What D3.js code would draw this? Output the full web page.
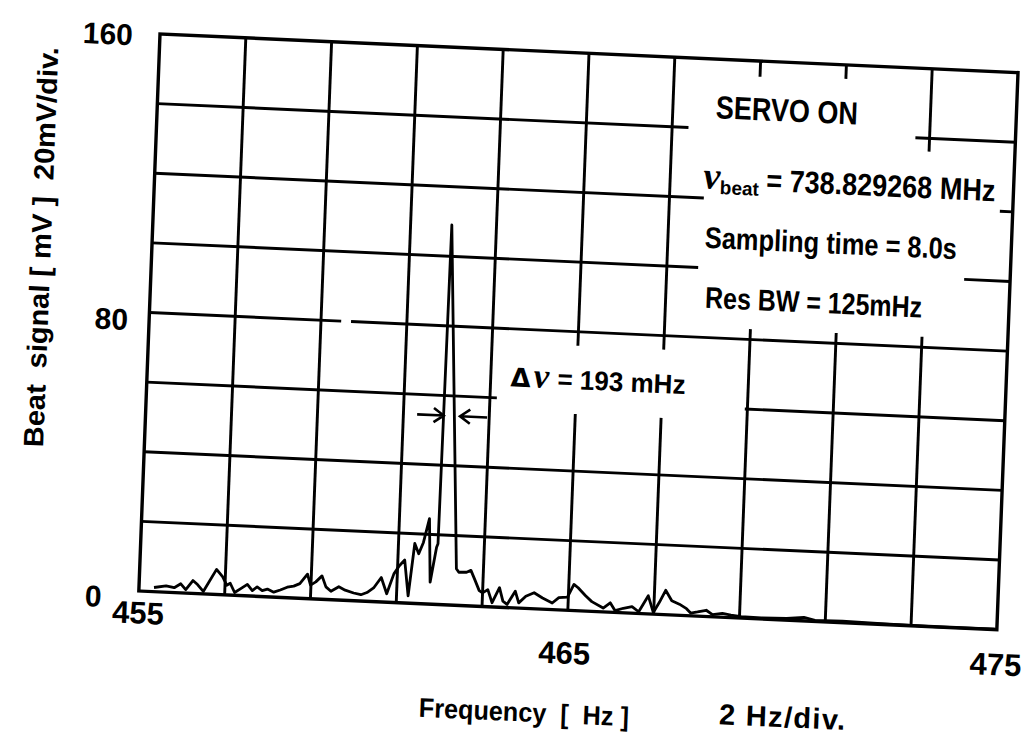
<!DOCTYPE html>
<html>
<head>
<meta charset="utf-8">
<script src="https://cdn.jsdelivr.net/npm/d3@7"></script>
<style>
  body { margin: 0; background: #fff; }
  text { font-family: "Liberation Sans", Arial, Helvetica, sans-serif; font-weight: bold; fill: #000; }
</style>
</head>
<body>
<div id="chart"></div>
<script>
// Espectro de la señal de batido (servo on)
const freqHz = [455.35, 455.63, 455.82, 455.97, 456.09, 456.25, 456.36, 456.50, 456.79, 456.94,
  457.04, 457.12, 457.23, 457.37, 457.52, 457.64, 457.75, 457.87, 457.99, 458.14,
  458.29, 458.45, 458.60, 458.74, 458.91, 458.99, 459.11, 459.25, 459.35, 459.47,
  459.65, 459.80, 460.00, 460.17, 460.31, 460.46, 460.63, 460.77, 460.92, 461.04,
  461.16, 461.27, 461.38, 461.48, 461.58, 461.70, 461.77, 461.89, 461.92, 461.96,
  462.37, 462.43, 462.61, 462.71, 462.80, 462.92, 463.00, 463.12, 463.23, 463.39,
  463.48, 463.58, 463.76, 463.85, 464.01, 464.20, 464.40, 464.63, 464.78, 464.98,
  465.12, 465.22, 465.40, 465.55, 465.82, 465.98, 466.10, 466.29, 466.49, 466.65,
  466.86, 466.99, 467.12, 467.26, 467.41, 467.59, 467.76, 467.86, 468.02, 468.22,
  468.37, 468.60, 468.80, 469.04, 469.51, 470.10, 470.50, 470.76, 471.40, 472.30,
  473.60, 474.95]
const beatMv = [1.2, 1.8, 1.4, 2.6, 1.0, 3.7, 2.6, 0.7, 7.2, 5.1,
  2.8, 3.4, 0.8, 2.0, 3.3, 1.6, 2.7, 1.7, 2.2, 1.4,
  2.1, 3.0, 3.4, 4.2, 7.0, 3.9, 4.9, 6.7, 3.6, 2.4,
  3.8, 2.9, 2.2, 1.8, 2.5, 3.9, 7.0, 2.4, 8.2, 10.6,
  12.3, 2.1, 17.2, 14.3, 17.6, 24.5, 6.3, 16.4, 17.4, 109,
  10.5, 9.5, 9.6, 10.2, 7.8, 4.5, 3.9, 4.9, 1.2, 5.6,
  1.8, 0.9, 4.8, 1.5, 3.5, 4.6, 3.2, 1.9, 3.5, 3.8,
  7.5, 6.6, 4.4, 2.8, 1.1, 2.7, 0.5, 1.3, 1.9, 0.5,
  5.2, 0.5, 3.4, 7.0, 4.1, 3.2, 2.0, 0.8, 1.2, 1.8,
  0.6, 1.1, 0.7, 0.4, 0.3, 0.5, 1.0, 0.3, 0.4, 0.2,
  0.0, 0.1]

const xTickLabels = [455, 465, 475]
const yTickLabels = [0, 80, 160]

// rejilla: lineas verticales (Hz) con sus tramos en mV, horizontales (mV) con tramos en Hz
const vGridX = [457, 459, 461, 463, 465, 467, 469, 471, 473]
const vGridSpans = [[[0, 160]], [[0, 160]], [[0, 160]], [[0, 160]],
  [[0, 56.4], [76, 160]], [[0, 56.4], [76, 160]],
  [[0, 83], [155.5, 160]], [[0, 83], [156, 160]], [[0, 83], [136.2, 160]]]
const hGridY = [20, 40, 60, 80, 100, 120, 140]
const hGridSpans = [[[455, 475]], [[455, 475]],
  [[455, 463.16], [468.94, 475]], [[455, 459.47], [459.7, 475]],
  [[455, 467.73], [473.93, 475]], [[455, 467.8], [474.7, 475]],
  [[455, 467.38], [472.67, 475]]]

// anotaciones
const servoText = "SERVO ON"
const beatText = "= 738.829268 MHz"
const samplingText = "Sampling time = 8.0s"
const resBwText = "Res BW = 125mHz"
const widthText = "= 193 mHz"
const fwhmLeft = [461.32, 461.94]
const fwhmRight = [462.95, 462.32]
const fwhmLevel = 54.25

const WIDTH = 1030
const HEIGHT = 739
const plotW = 858
const plotH = 557

const svg = d3.select("#chart").append("svg")
  .attr("width", WIDTH)
  .attr("height", HEIGHT)

svg.append("rect").attr("width", WIDTH).attr("height", HEIGHT).attr("fill", "#fff")

// la figura escaneada esta ligeramente girada
const plot = svg.append("g")
  .attr("transform", "matrix(1, 0.045, -0.038, 1, 160, 34)")

const xScale = d3.scaleLinear().domain([455, 475]).range([0, plotW])
const yScale = d3.scaleLinear().domain([0, 160]).range([plotH, 0])

// Rejilla
const vSegs = []
vGridX.forEach((xv, i) => vGridSpans[i].forEach(s => vSegs.push({ x: xv, y0: s[0], y1: s[1] })))
const hSegs = []
hGridY.forEach((yv, i) => hGridSpans[i].forEach(s => hSegs.push({ y: yv, x0: s[0], x1: s[1] })))

plot.append("g").selectAll("line")
  .data(vSegs)
  .join("line")
  .attr("x1", d => xScale(d.x)).attr("x2", d => xScale(d.x))
  .attr("y1", d => yScale(d.y0)).attr("y2", d => yScale(d.y1))
  .attr("stroke", "#000").attr("stroke-width", 2.9)

plot.append("g").selectAll("line")
  .data(hSegs)
  .join("line")
  .attr("x1", d => xScale(d.x0)).attr("x2", d => xScale(d.x1))
  .attr("y1", d => yScale(d.y)).attr("y2", d => yScale(d.y))
  .attr("stroke", "#000").attr("stroke-width", 2.9)

// Marco
plot.append("rect")
  .attr("x", xScale(455)).attr("y", yScale(160))
  .attr("width", xScale(475) - xScale(455))
  .attr("height", yScale(0) - yScale(160))
  .attr("fill", "none").attr("stroke", "#000").attr("stroke-width", 3.4)

// Curva
const spectrum = freqHz.map((f, i) => [f, beatMv[i]])
const lineGenerator = d3.line()
  .x(d => xScale(d[0]))
  .y(d => yScale(d[1]))

plot.append("path")
  .datum(spectrum)
  .attr("d", lineGenerator)
  .attr("fill", "none")
  .attr("stroke", "#000")
  .attr("stroke-width", 2.8)
  .attr("stroke-linejoin", "round")

// Flechas de ancho de linea
const drawArrow = (from, to) => {
  const yy = yScale(fwhmLevel)
  const x0 = xScale(from), x1 = xScale(to)
  const dir = Math.sign(x1 - x0)
  plot.append("path")
    .attr("d", `M${x0},${yy}L${x1},${yy}M${x1 - dir * 10},${yy - 7}L${x1},${yy}L${x1 - dir * 10},${yy + 7}`)
    .attr("fill", "none").attr("stroke", "#000").attr("stroke-width", 2.6)
}
drawArrow(fwhmLeft[0], fwhmLeft[1])
drawArrow(fwhmRight[0], fwhmRight[1])

// Textos del recuadro
const serif = "'Liberation Serif', 'DejaVu Serif', serif"

plot.append("text")
  .attr("x", xScale(468.0)).attr("y", yScale(143.0))
  .attr("font-size", 32)
  .attr("textLength", 142).attr("lengthAdjust", "spacingAndGlyphs")
  .text(servoText)

const beatX = xScale(467.77)
const beatY = yScale(122.8)
const beat = plot.append("text")
  .attr("x", beatX).attr("y", beatY)
beat.append("tspan").text("ν")
  .style("font-family", serif)
  .style("font-style", "italic")
  .attr("font-size", 38)
beat.append("tspan").text("beat").attr("font-size", 19).attr("dy", 5)

plot.append("text")
  .attr("x", beatX + 63).attr("y", beatY)
  .attr("font-size", 31)
  .attr("textLength", 229).attr("lengthAdjust", "spacingAndGlyphs")
  .text(beatText)

plot.append("text")
  .attr("x", xScale(467.86)).attr("y", yScale(105.7))
  .attr("font-size", 30)
  .attr("textLength", 252).attr("lengthAdjust", "spacingAndGlyphs")
  .text(samplingText)

plot.append("text")
  .attr("x", xScale(467.92)).attr("y", yScale(88.5))
  .attr("font-size", 30)
  .attr("textLength", 217).attr("lengthAdjust", "spacingAndGlyphs")
  .text(resBwText)

const dnuX = xScale(463.46)
const dnuY = yScale(63.5)
const dnu = plot.append("text")
  .attr("x", dnuX).attr("y", dnuY)
dnu.append("tspan").text("Δ").style("font-family", "'DejaVu Sans', sans-serif").attr("font-size", 26)
dnu.append("tspan").text("ν").attr("dx", 3)
  .style("font-family", serif)
  .style("font-style", "italic").attr("font-size", 35)

plot.append("text")
  .attr("x", dnuX + 47).attr("y", dnuY)
  .attr("font-size", 27)
  .attr("textLength", 128).attr("lengthAdjust", "spacingAndGlyphs")
  .text(widthText)

// Etiquetas de ejes
const yLabelNudge = [[-37, 7], [-21, 8], [-27, 2]]
plot.append("g").selectAll("text")
  .data(yTickLabels)
  .join("text")
  .attr("x", (d, i) => xScale(455) + yLabelNudge[i][0])
  .attr("y", (d, i) => yScale(d) + yLabelNudge[i][1])
  .attr("text-anchor", "end")
  .attr("dominant-baseline", "central")
  .attr("font-size", 30)
  .text(d => d)

const xLabelNudge = [[0, 22], [-2, 43], [0, 35]]
plot.append("g").selectAll("text")
  .data(xTickLabels)
  .join("text")
  .attr("x", (d, i) => xScale(d) + xLabelNudge[i][0])
  .attr("y", (d, i) => yScale(0) + xLabelNudge[i][1])
  .attr("text-anchor", "middle")
  .attr("dominant-baseline", "central")
  .attr("font-size", 31)
  .text(d => d)

plot.append("text")
  .attr("x", 284).attr("y", plotH + 113)
  .attr("font-size", 27)
  .attr("textLength", 210).attr("lengthAdjust", "spacingAndGlyphs")
  .style("white-space", "pre")
  .text("Frequency  [  Hz ]")

plot.append("text")
  .attr("x", 584).attr("y", plotH + 107)
  .attr("font-size", 29)
  .attr("textLength", 126).attr("lengthAdjust", "spacing")
  .text("2 Hz/div.")

plot.append("text")
  .attr("transform", `translate(-101, 418) rotate(-90)`)
  .attr("font-size", 28)
  .attr("textLength", 400).attr("lengthAdjust", "spacingAndGlyphs")
  .style("white-space", "pre")
  .text("Beat  signal [ mV ]  20mV/div.")
</script>
</body>
</html>
